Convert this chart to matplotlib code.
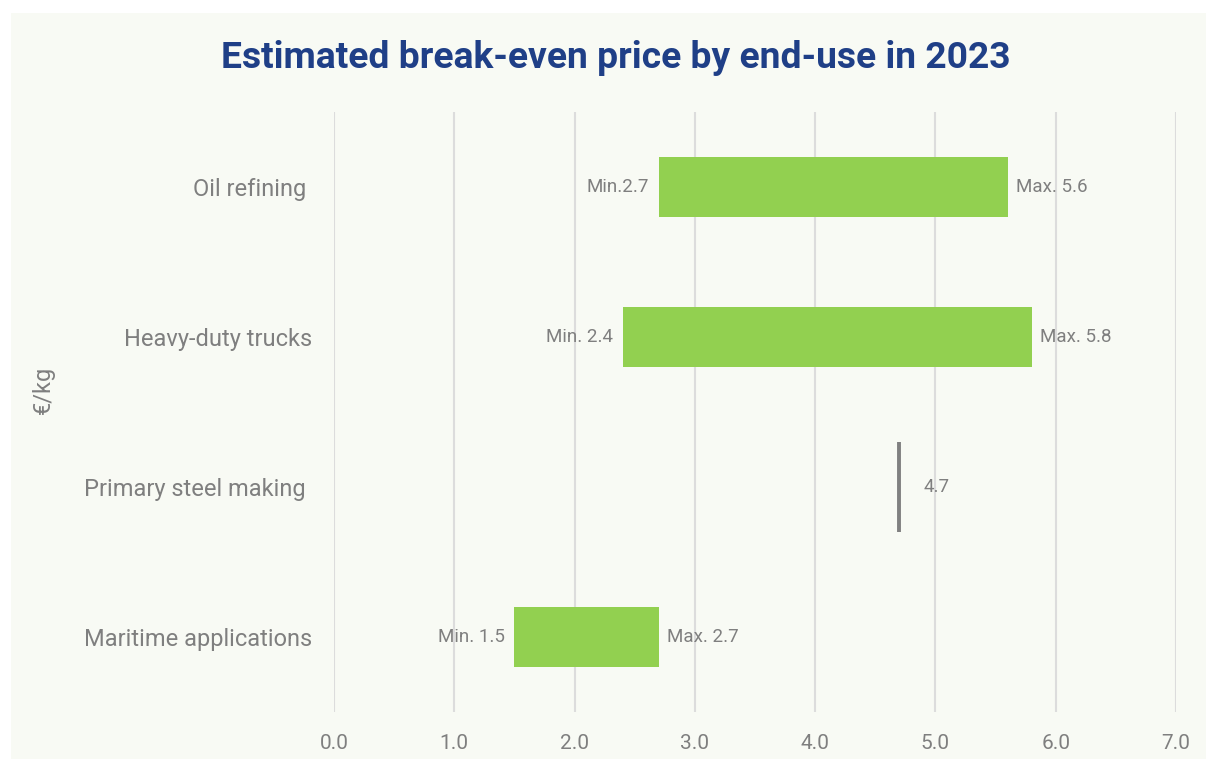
import matplotlib
matplotlib.use("Agg")
import matplotlib.pyplot as plt
from matplotlib.patches import Rectangle

# Break-even price ranges by end-use (€/kg)
categories = ["Oil refining ", "Heavy-duty trucks", "Primary steel making ", "Maritime applications"]
min_price = [2.7, 2.4, 4.7, 1.5]
max_price = [5.6, 5.8, 4.7, 2.7]
min_labels = ["Min.2.7", "Min. 2.4", None, "Min. 1.5"]
max_labels = ["Max. 5.6", "Max. 5.8", "4.7", "Max. 2.7"]
x_ticks = [0, 1, 2, 3, 4, 5, 6, 7]
x_tick_labels = ["0.0", "1.0", "2.0", "3.0", "4.0", "5.0", "6.0", "7.0"]

plt.rcParams["font.family"] = ["Roboto", "DejaVu Sans"]

W, H = 1206, 759
fig = plt.figure(figsize=(W / 100, H / 100), dpi=100, facecolor="white")

# Light panel behind the chart
fig.patches.append(Rectangle((11 / W, 0), 1 - 11 / W, 1 - 13 / H,
                             transform=fig.transFigure, facecolor="#f8faf4",
                             edgecolor="none", zorder=-10))

ax = fig.add_axes([334 / W, 1 - 712 / H, (1176 - 334) / W, 600 / H])
ax.set_facecolor("none")

bar_green = "#92d050"
text_grey = "#7f7f7f"

ypos = list(range(len(categories)))
for y, lo, hi, lab_lo, lab_hi in zip(ypos, min_price, max_price, min_labels, max_labels):
    if hi > lo:
        ax.barh(y, hi - lo, left=lo, height=0.4, color=bar_green, zorder=3)
        ax.annotate(lab_lo, (lo, y), xytext=(-10, 0), textcoords="offset pixels",
                    ha="right", va="center", fontsize=13.5, color=text_grey, zorder=4)
        ax.annotate(lab_hi, (hi, y), xytext=(8, 0), textcoords="offset pixels",
                    ha="left", va="center", fontsize=13.5, color=text_grey, zorder=4)
    else:
        ax.vlines(lo, y - 0.3, y + 0.3, color="#808080", linewidth=2.8, zorder=3)
        ax.annotate(lab_hi, (lo, y), xytext=(24, 0), textcoords="offset pixels",
                    ha="left", va="center", fontsize=13.5, color=text_grey, zorder=4)

ax.set_xlim(0, 7)
ax.set_ylim(len(categories) - 0.5, -0.5)
ax.set_xticks(x_ticks)
ax.set_xticklabels(x_tick_labels)
ax.set_yticks(ypos)
ax.set_yticklabels(categories)
ax.tick_params(axis="x", length=0, pad=16, labelsize=15, labelcolor=text_grey)
ax.tick_params(axis="y", length=0, pad=16, labelsize=17, labelcolor=text_grey)
ax.grid(axis="x", color="#dcdcdc", linewidth=1.5, zorder=0)
ax.grid(axis="y", visible=False)
ax.set_axisbelow(True)
for s in ax.spines.values():
    s.set_visible(False)

fig.text(43 / W, 1 - 390 / H, "€/kg", rotation=90, ha="center", va="center",
         fontsize=17, color=text_grey)

fig.text(616 / W, 1 - 58 / H, "Estimated break-even price by end-use in 2023",
         ha="center", va="center", fontsize=26.8, fontweight="bold", color="#1f3f87")

fig.savefig("out.png", dpi=100, facecolor="white")
